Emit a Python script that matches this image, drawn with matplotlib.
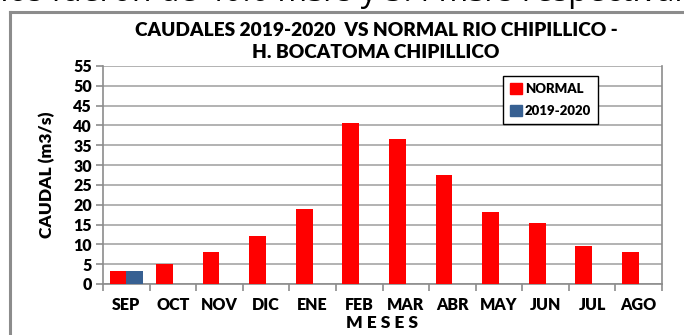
"""Caudales 2019-2020 vs normal del rio Chipillico (H. Bocatoma Chipillico)"""

# imports
import matplotlib
matplotlib.use("Agg")
import matplotlib.pyplot as plt
from matplotlib.lines import Line2D
from matplotlib.patches import Patch
import numpy as np

plt.rcParams['font.family'] = ['Lato', 'DejaVu Sans']

# data: monthly flows (m3/s)
meses = ["SEP", "OCT", "NOV", "DIC", "ENE", "FEB",
         "MAR", "ABR", "MAY", "JUN", "JUL", "AGO"]
normal = [3.4, 5.1, 8.0, 12.2, 18.8, 40.6, 36.7, 27.6, 18.2, 15.4, 9.7, 8.0]
caudal_2019_2020 = [3.4, np.nan, np.nan, np.nan, np.nan, np.nan,
                    np.nan, np.nan, np.nan, np.nan, np.nan, np.nan]
y_ticks = list(range(0, 60, 5))

# figure and plot area (pixel based positions on a 684x335 canvas)
fig = plt.figure(figsize=(6.84, 3.35), dpi=100)
W, H = 684, 335
ax = fig.add_axes([103 / W, 1 - 284 / H, (662 - 103) / W, (284 - 66) / H])

# surrounding report frame, the upper line of text is cut by the page edge
fig.add_artist(Line2D([10 / W, 10 / W], [0, 1 - 12 / H], color="#8c8c8c", lw=2.2))
fig.add_artist(Line2D([10 / W, 1], [1 - 12 / H, 1 - 12 / H], color="#8c8c8c", lw=2.2))
fig.text(0.5, 1 - 1 / H,
         "mínimos fueron de 40.6 m3/s y 3.4 m3/s respectivamente",
         ha="center", va="baseline", fontsize=23, family=["Open Sans", "DejaVu Sans"])

# bars
x = np.arange(len(meses))
bar_w = 0.36
ax.bar(x - bar_w / 2, normal, width=bar_w, color="#ff0000", zorder=3)
ax.bar(x + bar_w / 2, caudal_2019_2020, width=bar_w, color="#376092", zorder=3)

# axes styling
ax.set_xlim(-0.5, len(meses) - 0.5)
ax.set_ylim(0, 55)
ax.set_yticks(y_ticks)
ax.set_yticklabels([str(t) for t in y_ticks], fontsize=11.5, fontweight="heavy")
ax.yaxis.grid(True, color="#a6a6a6", lw=1.2, zorder=0)
ax.set_axisbelow(True)

ax.set_xticks(x)
ax.set_xticklabels(meses, fontsize=11.5, fontweight="heavy")
ax.set_xticks(np.arange(-0.5, len(meses)), minor=True)
ax.tick_params(axis="x", which="major", length=0, pad=9)
ax.tick_params(axis="x", which="minor", length=5, color="#8c8c8c", width=1.2)
ax.tick_params(axis="y", length=5, color="#8c8c8c", width=1.2, pad=3)

for side in ["left", "bottom", "right"]:
    ax.spines[side].set_color("#8c8c8c")
    ax.spines[side].set_linewidth(1.2)
ax.spines["top"].set_visible(False)

ax.set_xlabel("M E S E S", fontsize=12.5, fontweight="heavy", labelpad=2)
ax.set_ylabel("CAUDAL (m3/s)", fontsize=12.5, fontweight="heavy", labelpad=13)

# title in two lines
fig.text(376 / W, 1 - 30 / H, "CAUDALES 2019-2020  VS NORMAL RIO CHIPILLICO -",
         ha="center", va="center", fontsize=13.8, fontweight="heavy")
fig.text(376 / W, 1 - 53 / H, "H. BOCATOMA CHIPILLICO",
         ha="center", va="center", fontsize=13.8, fontweight="heavy")

# legend
handles = [Patch(color="#ff0000", label="NORMAL"),
           Patch(color="#376092", label="2019-2020")]
leg = ax.legend(handles=handles, loc="upper left",
                bbox_to_anchor=((503 - 103) / (662 - 103), (284 - 76) / (284 - 66)),
                fancybox=False, framealpha=1, edgecolor="black",
                prop={"weight": "heavy", "size": 9.5},
                handlelength=0.9, handleheight=0.9, handletextpad=0.2,
                borderpad=0.55, labelspacing=0.75, borderaxespad=0)
leg.get_frame().set_linewidth(1.0)

fig.savefig("out.png", dpi=100)
